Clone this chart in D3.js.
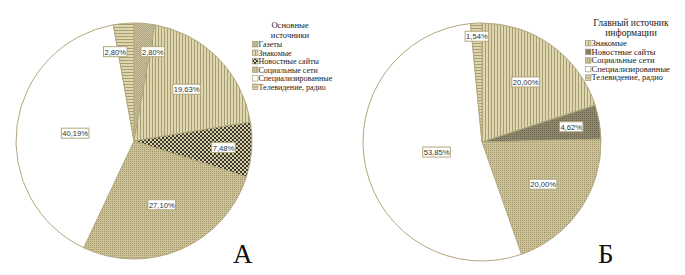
<!DOCTYPE html>
<html>
<head>
<meta charset="utf-8">
<script src="https://cdn.jsdelivr.net/npm/d3@7"></script>
<style>
  body { margin: 0; background: #fff; }
  svg { display: block; }
</style>
</head>
<body>
<svg width="685" height="275"></svg>
<script>
// chart A
const catsA = ["Газеты", "Знакомые", "Новостные сайты", "Социальные сети", "Специализированные", "Телевидение, радио"];
const valsA = [2.80, 19.63, 7.48, 27.10, 40.19, 2.80];
const titleA = ["Основные", "источники"];

// chart B
const catsB = ["Знакомые", "Новостные сайты", "Социальные сети", "Специализированные", "Телевидение, радио"];
const valsB = [20.00, 4.62, 20.00, 53.85, 1.54];
const titleB = ["Главный источник", "информации"];

const svg = d3.select("svg");
const edge = "#b3a77c";
const serif = "'Liberation Serif', 'Times New Roman', serif";

// fill patterns
const defs = svg.append("defs");
const addPattern = (id, w, h, bg, draw) => {
  const p = defs.append("pattern")
    .attr("id", id)
    .attr("patternUnits", "userSpaceOnUse")
    .attr("width", w)
    .attr("height", h);
  p.append("rect").attr("width", w).attr("height", h).attr("fill", bg);
  draw(p);
};
addPattern("p-gaz", 2, 2, "#cbc39d", (p) => {
  p.append("rect").attr("width", 1).attr("height", 1).attr("fill", "#a69d7a");
  p.append("rect").attr("x", 1).attr("y", 1).attr("width", 1).attr("height", 1).attr("fill", "#b3aa86");
});
addPattern("p-zn", 3, 3, "#ded6af", (p) => {
  p.append("rect").attr("width", 1).attr("height", 3).attr("fill", "#a89d71");
});
addPattern("p-nsA", 4, 4, "#d6ceA6", (p) => {
  p.append("rect").attr("width", 2).attr("height", 2).attr("fill", "#3a372c");
  p.append("rect").attr("x", 2).attr("y", 2).attr("width", 2).attr("height", 2).attr("fill", "#3a372c");
});
addPattern("p-nsB", 2, 2, "#8f876b", (p) => {
  p.append("rect").attr("width", 1).attr("height", 1).attr("fill", "#6c6550");
});
addPattern("p-soc", 2, 2, "#cdc396", (p) => {
  p.append("rect").attr("width", 1).attr("height", 1).attr("fill", "#9f956c");
});
addPattern("p-tv", 3, 3, "#ded6af", (p) => {
  p.append("rect").attr("width", 3).attr("height", 1).attr("fill", "#a89d71");
});

const fills = {
  "Газеты": "url(#p-gaz)",
  "Знакомые": "url(#p-zn)",
  "Социальные сети": "url(#p-soc)",
  "Специализированные": "#ffffff",
  "Телевидение, радио": "url(#p-tv)",
};

const fmt = (v) => d3.format(".2f")(v).replace(".", ",") + "%";

const drawPie = (cats, vals, cfg) => {
  const g = svg.append("g").attr("transform", `translate(${cfg.cx}, ${cfg.cy})`);
  const fillOf = (c) => (c === "Новостные сайты" ? cfg.newsFill : fills[c]);

  const pie = d3.pie().sort(null).value((d) => d.v);
  const arcs = pie(cats.map((c, i) => ({ c: c, v: vals[i] })));
  const arc = d3.arc().innerRadius(0).outerRadius(cfg.r);

  g.selectAll("path")
    .data(arcs)
    .enter()
    .append("path")
    .attr("d", arc)
    .attr("fill", (d) => fillOf(d.data.c))
    .attr("stroke", edge)
    .attr("stroke-width", 1);

  // label position: sector area centroid, small slices pushed outward
  const labels = arcs.map((d) => {
    const half = (d.endAngle - d.startAngle) / 2;
    const mid = d.startAngle + half;
    let rr = (2 * cfg.r * Math.sin(half)) / (3 * half);
    const share = d.data.v / 100;
    if (share < 0.1) rr = Math.max(rr, cfg.r * 0.76);
    if (share < 0.02) rr = cfg.r * 0.89;
    const text = fmt(d.data.v);
    const w = text.length * 4.1 + 3;
    return { text: text, x: rr * Math.sin(mid), y: -rr * Math.cos(mid), w: w, h: 10 };
  });
  // push overlapping labels apart horizontally
  for (let k = 0; k < 20; k++) {
    for (let i = 0; i < labels.length; i++) {
      for (let j = i + 1; j < labels.length; j++) {
        const a = labels[i], b = labels[j];
        const ox = (a.w + b.w) / 2 + 14 - Math.abs(a.x - b.x);
        const oy = (a.h + b.h) / 2 - Math.abs(a.y - b.y);
        if (ox > 0 && oy > 0) {
          const s = a.x < b.x ? -1 : 1;
          a.x += (s * ox) / 2;
          b.x -= (s * ox) / 2;
        }
      }
    }
  }

  const lg = g.selectAll(".lbl").data(labels).enter().append("g")
    .attr("transform", (d) => `translate(${d.x}, ${d.y})`);
  lg.append("rect")
    .attr("x", (d) => -d.w / 2)
    .attr("y", -5)
    .attr("width", (d) => d.w)
    .attr("height", 10)
    .attr("fill", "#fff")
    .attr("stroke", edge)
    .attr("stroke-width", 1);
  lg.append("text")
    .attr("text-anchor", "middle")
    .attr("y", 3)
    .attr("font-family", "'Liberation Sans', Arial, sans-serif")
    .attr("font-size", 7.6)
    .attr("fill", "#333")
    .text((d) => d.text);

  // legend
  const leg = svg.append("g").attr("transform", `translate(${cfg.lx}, ${cfg.ly})`);
  leg.selectAll(".ttl").data(cfg.title).enter().append("text")
    .attr("x", cfg.tx)
    .attr("y", (d, i) => i * 9.5)
    .attr("text-anchor", "middle")
    .attr("font-family", serif)
    .attr("font-size", cfg.tfs)
    .attr("fill", "#222")
    .text((d) => d);
  const items = leg.selectAll(".it").data(cats).enter().append("g")
    .attr("transform", (d, i) => `translate(0, ${cfg.ty + i * cfg.step})`);
  items.append("rect")
    .attr("x", 0.5)
    .attr("y", -5.5)
    .attr("width", 5.5)
    .attr("height", 5.5)
    .attr("fill", (d) => fillOf(d))
    .attr("stroke", "#9a9070")
    .attr("stroke-width", 0.6);
  items.append("text")
    .attr("x", 6.5)
    .attr("y", 0)
    .attr("font-family", serif)
    .attr("font-size", cfg.ifs)
    .attr("fill", "#222")
    .text((d) => d);

  svg.append("text")
    .attr("x", cfg.letterX)
    .attr("y", 263)
    .attr("font-family", serif)
    .attr("font-size", 27)
    .attr("fill", "#111")
    .text(cfg.letter);
};

drawPie(catsA, valsA, {
  cx: 134, cy: 141, r: 118, newsFill: "url(#p-nsA)",
  lx: 252, ly: 28, tx: 38, title: titleA, tfs: 8.6, ty: 19, step: 8.5, ifs: 8,
  letter: "А", letterX: 233,
});
drawPie(catsB, valsB, {
  cx: 482, cy: 142, r: 119, newsFill: "url(#p-nsB)",
  lx: 585, ly: 26, tx: 46, title: titleB, tfs: 9.6, ty: 20, step: 8.6, ifs: 8.5,
  letter: "Б", letterX: 598,
});
</script>
</body>
</html>
